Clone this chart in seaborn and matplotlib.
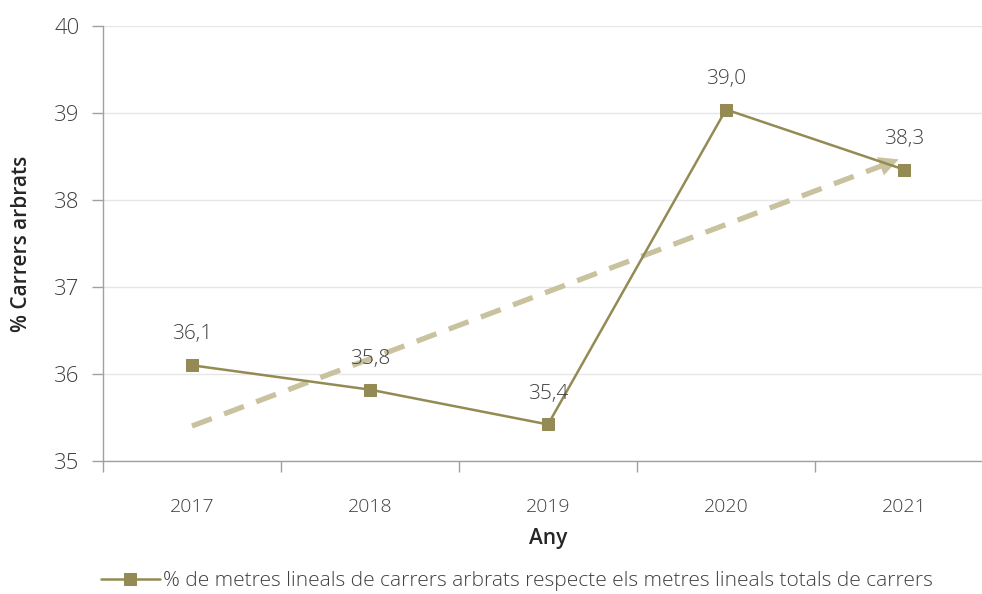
import numpy as np
import pandas as pd
import matplotlib.pyplot as plt
import seaborn as sns

anys = ['2017', '2018', '2019', '2020', '2021']
valors = [36.10, 35.82, 35.42, 39.04, 38.35]
etiquetes = ['36,1', '35,8', '35,4', '39,0', '38,3']
serie = '% de metres lineals de carrers arbrats respecte els metres lineals totals de carrers'

sns.set_style('white')
plt.rcParams['font.family'] = ['Open Sans', 'DejaVu Sans']

df = pd.DataFrame({'pos': np.arange(len(anys)), 'valor': valors})

fig = plt.figure(figsize=(9.82, 5.94), dpi=100)
ax = fig.add_axes([103 / 982, (594 - 461) / 594, 890 / 982, 435 / 594])

color = '#948A54'
color_tend = '#C9C29F'

sns.lineplot(data=df, x='pos', y='valor', ax=ax, color=color, linewidth=1.8,
             marker='s', markersize=9, markeredgecolor=color, label=serie)

# línia de tendència lineal
coef = np.polyfit(df['pos'], df['valor'], 1)
x0, x1 = 0, len(anys) - 1
xf = x1 - 0.03
yf = np.polyval(coef, xf)
ax.plot([x0, xf - 0.1], [y0 := np.polyval(coef, x0), yf - 0.1 * coef[0]],
        color=color_tend, lw=3.8, dashes=(4, 2.5), zorder=1)
ax.annotate('', xy=(xf, yf), xytext=(xf - 0.16, yf - 0.16 * coef[0]),
            arrowprops=dict(arrowstyle='-|>,head_length=1.4,head_width=0.7',
                            color=color_tend, lw=0, shrinkA=0, shrinkB=0), zorder=1)

for i, (v, t) in enumerate(zip(valors, etiquetes)):
    ax.annotate(t, (i, v), xytext=(0, 15), textcoords='offset points',
                ha='center', va='bottom', fontsize=15, color='#404040',
                fontweight='light')

ax.set_ylim(35, 40)
ax.set_yticks([35, 36, 37, 38, 39, 40])
ax.set_xlim(-0.5, 4.5)
ax.set_xticks(np.arange(-0.5, 5, 1))
ax.set_xticklabels([])
ax.set_xticks(np.arange(len(anys)), minor=True)
ax.set_xticklabels(anys, minor=True, fontweight='light')
ax.tick_params(axis='x', which='major', bottom=True, length=8, width=1,
               color='#A0A0A0', direction='out')
ax.tick_params(axis='x', which='minor', bottom=True, length=0, pad=27,
               labelsize=14, labelcolor='#404040')
ax.tick_params(axis='y', left=True, length=8, width=1, color='#A0A0A0',
               direction='out', labelsize=16, labelcolor='#404040', pad=9)
for t in ax.get_yticklabels():
    t.set_fontweight('light')
ax.grid(axis='y', color='#E6E6E6', lw=1)
ax.set_axisbelow(True)

for s in ['top', 'right']:
    ax.spines[s].set_visible(False)
for s in ['left', 'bottom']:
    ax.spines[s].set_color('#A0A0A0')
    ax.spines[s].set_linewidth(1)

ax.set_xlabel('Any', fontsize=15, fontweight='semibold', labelpad=8)
ax.set_ylabel('% Carrers arbrats', fontsize=15, fontweight='semibold', labelpad=16)

ax.legend(loc='upper center', bbox_to_anchor=(0.465, -0.21), frameon=False,
          labelcolor='#404040', handlelength=2.8, handletextpad=0.15,
          prop={'weight': 'light', 'size': 15})

fig.savefig('out.png', dpi=100)
